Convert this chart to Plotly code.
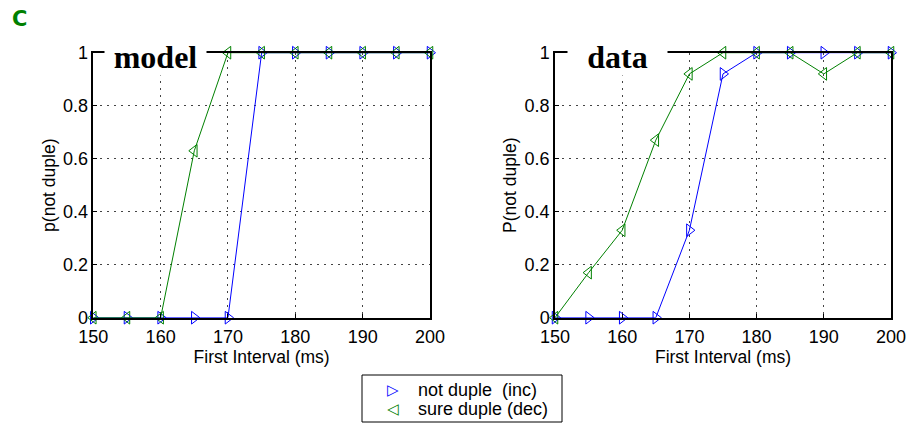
import plotly.graph_objects as go

intervals = [150, 155, 160, 165, 170, 175, 180, 185, 190, 195, 200]

model_inc = [0, 0, 0, 0, 0, 1, 1, 1, 1, 1, 1]
model_dec = [0, 0, 0, 0.63, 1, 1, 1, 1, 1, 1, 1]

data_inc = [0, 0, 0, 0, 0.33, 0.92, 1, 1, 1, 1, 1]
data_dec = [0, 0.17, 0.33, 0.67, 0.92, 1, 1, 1, 0.92, 1, 1]

x_ticks = [150, 160, 170, 180, 190, 200]
y_ticks = [0, 0.2, 0.4, 0.6, 0.8, 1]
y_tick_labels = ["0", "0.2", "0.4", "0.6", "0.8", "1"]

legend_inc = "not duple\u00a0\u00a0(inc)"
legend_dec = "sure duple (dec)"

BLUE = "#0000ff"
GREEN = "#008000"
FONT = "Liberation Sans, Arial, sans-serif"
W, H = 910, 423


def px(x):
    return x / W


def py(y):
    return 1 - y / H


fig = go.Figure()


def add_series(xs, ys, color, symbol, xa, ya, name):
    fig.add_trace(go.Scatter(
        x=xs, y=ys, mode="lines+markers", xaxis=xa, yaxis=ya, name=name,
        line=dict(color=color, width=1),
        marker=dict(symbol=symbol, size=11, color=color, line=dict(width=1, color=color)),
        showlegend=False, cliponaxis=False))


add_series(intervals, model_inc, BLUE, "triangle-right-open", "x", "y", legend_inc)
add_series(intervals, model_dec, GREEN, "triangle-left-open", "x", "y", legend_dec)
add_series(intervals, data_inc, BLUE, "triangle-right-open", "x2", "y2", legend_inc)
add_series(intervals, data_dec, GREEN, "triangle-left-open", "x2", "y2", legend_dec)

axis_common = dict(
    showline=True, linecolor="black", linewidth=1.5, mirror=True,
    ticks="inside", ticklen=4, tickcolor="black",
    showgrid=True, gridcolor="#444444", griddash="2px,5px", gridwidth=1,
    zeroline=False, tickfont=dict(family=FONT, size=18, color="black"),
    automargin=False,
)

xdom1 = [px(93.3), px(430)]
xdom2 = [px(555), px(891)]
ydom = [py(317.7), py(52.7)]

for i, (xd, ytitle) in enumerate([(xdom1, "p(not duple)"), (xdom2, "P(not duple)")]):
    sfx = "" if i == 0 else str(i + 1)
    fig.update_layout({
        "xaxis" + sfx: dict(axis_common, domain=xd, range=[150, 200], tickvals=x_ticks,
                            anchor="y" + sfx, ticklabelstandoff=2,
                            title=dict(text="First Interval (ms)", standoff=1,
                                       font=dict(family=FONT, size=17.5, color="black"))),
        "yaxis" + sfx: dict(axis_common, domain=ydom, range=[0, 1], tickvals=y_ticks,
                            ticktext=y_tick_labels, anchor="x" + sfx,
                            title=dict(text=ytitle, standoff=3,
                                       font=dict(family=FONT, size=17.5, color="black"))),
    })

# panel titles with white background covering the top axis line
for xref, yref, txt, w in [("x domain", "y domain", "model", 99), ("x2 domain", "y2 domain", "data", 97)]:
    fig.add_annotation(xref=xref, yref=yref,
                       x=0.185, y=1, xanchor="center", yanchor="middle", yshift=-4,
                       text="<b>%s</b>" % txt, showarrow=False, bgcolor="white",
                       width=w, height=34,
                       font=dict(family="Liberation Serif, Times New Roman, serif", size=32, color="black"))

# panel letter
fig.add_annotation(xref="paper", yref="paper", x=px(10), y=py(5), xanchor="left", yanchor="top",
                   text="<b>C</b>", showarrow=False,
                   font=dict(family="DejaVu Sans, sans-serif", size=21, color=GREEN))

# legend box (drawn like the original MATLAB legend)
fig.add_shape(type="rect", xref="paper", yref="paper",
              x0=px(362), x1=px(562), y0=py(422), y1=py(375),
              line=dict(color="black", width=1), fillcolor="white", layer="above")
for (label, glyph, color, yc) in [(legend_inc, "\u25b7", BLUE, 390), (legend_dec, "\u25c1", GREEN, 409)]:
    fig.add_annotation(xref="paper", yref="paper", x=px(393), y=py(yc), xanchor="center",
                       yanchor="middle", text=glyph, showarrow=False,
                       font=dict(family="DejaVu Sans, sans-serif", size=15, color=color))
    fig.add_annotation(xref="paper", yref="paper", x=px(416), y=py(yc), xanchor="left",
                       yanchor="middle", text=label, showarrow=False,
                       font=dict(family=FONT, size=18, color="black"))

fig.update_layout(
    autosize=True,
    margin=dict(l=0, r=0, t=0, b=0),
    paper_bgcolor="white", plot_bgcolor="white",
    showlegend=False,
)

fig.write_html(
    "out.html",
    config={"displayModeBar": False, "responsive": True},
    default_width="910px",
    default_height="423px; position:fixed; top:0; left:0",
)
